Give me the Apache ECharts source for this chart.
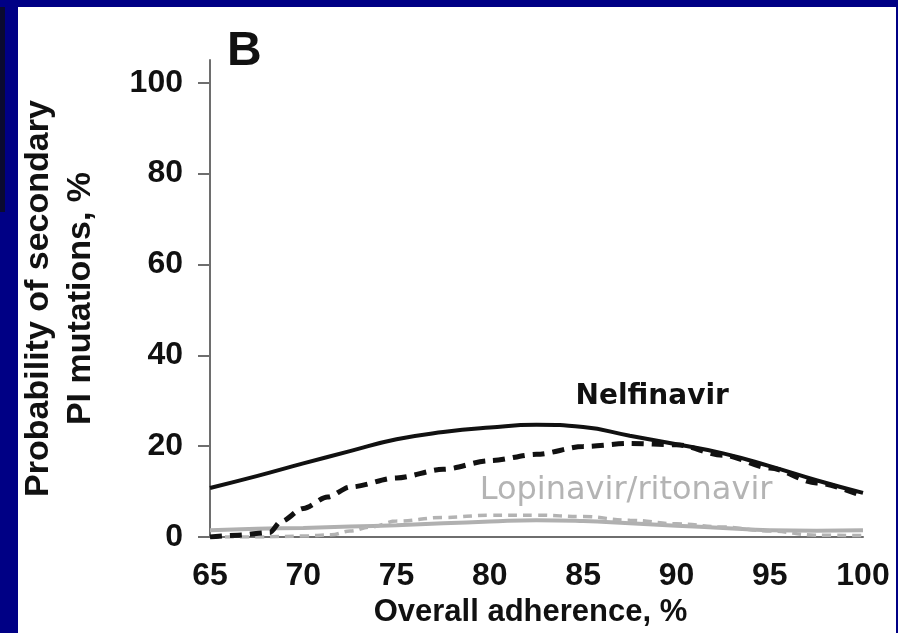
<!DOCTYPE html>
<html>
<head>
<meta charset="utf-8">
<script src="https://cdn.jsdelivr.net/npm/echarts@6/dist/echarts.min.js"></script>
<style>
  html, body { margin: 0; padding: 0; }
  body { width: 898px; height: 633px; background: #000085; position: relative; overflow: hidden; }
  #edge { position: absolute; left: 0; top: 7px; width: 5px; height: 205px; background: #0a0a30; }
  #panel { position: absolute; left: 18px; top: 7px; width: 878px; height: 626px; background: #ffffff; }
  #chart { position: absolute; left: 0; top: 0; width: 898px; height: 633px; }
</style>
</head>
<body>
<div id="edge"></div>
<div id="panel"></div>
<div id="chart"></div>
<script>
// Overall adherence (%) sample points
const adherence = [65, 67.5, 70, 72.5, 75, 77.5, 80, 82.5, 85, 87.5, 90, 92.5, 95, 97.5, 100];

// Nelfinavir, solid curve
const nelfinavirSolid = [10.8, 13.4, 16.2, 18.9, 21.5, 23.1, 24.1, 24.7, 24.2, 22.3, 20.4, 18.4, 15.6, 12.5, 9.7];

// Nelfinavir, dashed curve (sharp rise just before 69%)
const nelfinavirDashedX = [65, 66.5, 68.2, 68.8, 70, 71.3, 72.5, 75, 77.5, 80, 82.5, 85, 87.5, 90, 92.5, 95, 97.5, 100];
const nelfinavirDashed  = [0, 0.4, 1.0, 3.4, 6.3, 8.8, 11.0, 13.0, 14.9, 16.8, 18.2, 19.9, 20.6, 20.3, 18.0, 15.2, 11.9, 9.0];

// Lopinavir/ritonavir, solid curve
const lopinavirSolid = [1.5, 1.8, 2.0, 2.3, 2.6, 3.0, 3.4, 3.7, 3.5, 3.0, 2.5, 2.0, 1.5, 1.4, 1.5];

// Lopinavir/ritonavir, dashed curve
const lopinavirDashedX = [65, 67.5, 70, 71.5, 72.5, 73.6, 75, 77.5, 80, 82.5, 85, 87.5, 90, 92.5, 95, 97.5, 100];
const lopinavirDashed  = [0, 0, 0.2, 0.5, 1.3, 2.2, 3.5, 4.3, 4.8, 4.8, 4.5, 3.7, 2.9, 2.2, 1.3, 0.4, 0.3];

// Axis ticks
const xTicks = [65, 70, 75, 80, 85, 90, 95, 100];
const yTicks = [0, 20, 40, 60, 80, 100];

const pairs = (xs, ys) => xs.map((x, i) => [x, ys[i]]);

const FONT = '"Liberation Sans", Arial, sans-serif';
const AXIS_GRAY = '#6e6e6e';

const chart = echarts.init(document.getElementById('chart'), null, { renderer: 'canvas' });

chart.setOption({
  backgroundColor: 'transparent',
  animation: false,
  textStyle: { fontFamily: FONT },
  graphic: [{
    type: 'text',
    left: 227,
    top: 28,
    style: { text: 'B', fontFamily: FONT, fontSize: 48, fontWeight: 'bold', fill: '#111' }
  }],
  grid: { left: 210, right: 35, top: 60, bottom: 96, containLabel: false },
  xAxis: {
    type: 'value',
    min: 65,
    max: 100,
    interval: 5,
    axisLine: { show: true, lineStyle: { color: AXIS_GRAY, width: 2 } },
    axisTick: { show: false },
    splitLine: { show: false },
    axisLabel: {
      margin: 23,
      fontSize: 32,
      fontWeight: 'bold',
      color: '#111',
      fontFamily: FONT,
      customValues: xTicks
    },
    name: 'Overall adherence, %',
    nameLocation: 'middle',
    nameGap: 56,
    nameTextStyle: { fontSize: 31, fontWeight: 'bold', color: '#111', fontFamily: FONT, padding: [0, 12, 0, 0] }
  },
  yAxis: {
    type: 'value',
    min: 0,
    max: 105,
    axisLine: { show: true, lineStyle: { color: AXIS_GRAY, width: 2 } },
    axisTick: { show: true, inside: false, length: 12, lineStyle: { color: AXIS_GRAY, width: 2 }, customValues: yTicks },
    splitLine: { show: false },
    axisLabel: {
      margin: 27,
      fontSize: 32,
      fontWeight: 'bold',
      color: '#111',
      fontFamily: FONT,
      customValues: yTicks
    },
    name: 'Probability of secondary\nPI mutations, %',
    nameLocation: 'middle',
    nameRotate: 90,
    nameGap: 108,
    nameTextStyle: { fontSize: 34, fontWeight: 'bold', lineHeight: 42, color: '#111', fontFamily: FONT, align: 'center' }
  },
  series: [
    {
      name: 'Lopinavir/ritonavir',
      type: 'line',
      data: pairs(adherence, lopinavirSolid),
      smooth: 0.5,
      showSymbol: false,
      lineStyle: { color: '#b0b0b0', width: 4 },
      z: 2,
      markPoint: {
        symbol: 'rect',
        symbolSize: 1,
        itemStyle: { color: 'transparent' },
        label: {
          show: true,
          position: 'inside',
          formatter: 'Lopinavir/ritonavir',
          fontFamily: '"DejaVu Sans", sans-serif',
          fontSize: 32,
          color: '#b4b4b4'
        },
        data: [{ coord: [87.3, 10.1] }]
      }
    },
    {
      name: 'Lopinavir/ritonavir (dashed)',
      type: 'line',
      data: pairs(lopinavirDashedX, lopinavirDashed),
      smooth: 0.4,
      smoothMonotone: 'x',
      showSymbol: false,
      lineStyle: { color: '#b3b3b3', width: 3.5, type: [9, 6] },
      z: 3
    },
    {
      name: 'Nelfinavir',
      type: 'line',
      data: pairs(adherence, nelfinavirSolid),
      smooth: 0.5,
      showSymbol: false,
      lineStyle: { color: '#111', width: 4 },
      z: 4,
      markPoint: {
        symbol: 'rect',
        symbolSize: 1,
        itemStyle: { color: 'transparent' },
        label: {
          show: true,
          position: 'inside',
          formatter: 'Nelfinavir',
          fontFamily: '"DejaVu Sans", sans-serif',
          fontWeight: 'bold',
          fontSize: 28,
          color: '#111'
        },
        data: [{ coord: [88.7, 30.8] }]
      }
    },
    {
      name: 'Nelfinavir (dashed)',
      type: 'line',
      data: pairs(nelfinavirDashedX, nelfinavirDashed),
      smooth: 0.3,
      smoothMonotone: 'x',
      showSymbol: false,
      lineStyle: { color: '#111', width: 5, type: [12, 8] },
      z: 5
    }
  ]
});
</script>
</body>
</html>
